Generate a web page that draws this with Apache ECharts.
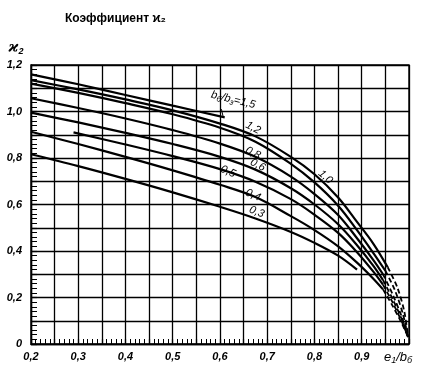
<!DOCTYPE html>
<html><head><meta charset="utf-8">
<script src="https://cdn.jsdelivr.net/npm/echarts@6/dist/echarts.min.js"></script>
<style>html,body{margin:0;padding:0;background:#fff}#c{width:426px;height:379px}</style>
</head><body><div id="c"></div>
<script>
// ---- data ----
const curveNames = ['1,5', '1,2', '1,0', '0,8', '0,6', '0,5', '0,4', '0,3'];
const k15Solid  = [[0.2,1.16],[0.3,1.117],[0.4,1.071],[0.5,1.025],[0.61,0.975]];
const k15Dashed = [];
const k12Solid  = [[0.2,1.135],[0.3,1.095],[0.4,1.052],[0.5,1.005],[0.6,0.948],[0.675,0.893],[0.75,0.805],[0.8,0.73],[0.85,0.63],[0.89,0.525],[0.925,0.43],[0.955,0.33]];
const k12Dashed = [[0.955,0.33],[0.975,0.245],[0.99,0.14],[0.998,0.03]];
const k10Solid  = [[0.2,1.12],[0.3,1.08],[0.4,1.036],[0.5,0.988],[0.6,0.93],[0.675,0.87],[0.75,0.775],[0.8,0.695],[0.85,0.595],[0.89,0.49],[0.925,0.39],[0.95,0.315]];
const k10Dashed = [[0.95,0.315],[0.97,0.232],[0.987,0.13],[0.998,0.03]];
const k08Solid  = [[0.2,1.057],[0.3,1.015],[0.4,0.97],[0.5,0.92],[0.6,0.862],[0.675,0.805],[0.75,0.72],[0.8,0.645],[0.85,0.555],[0.89,0.455],[0.925,0.36],[0.945,0.30]];
const k08Dashed = [[0.945,0.30],[0.965,0.215],[0.985,0.115],[0.998,0.03]];
const k06Solid  = [[0.2,0.995],[0.3,0.953],[0.4,0.908],[0.5,0.86],[0.6,0.805],[0.675,0.75],[0.75,0.67],[0.8,0.60],[0.85,0.515],[0.89,0.425],[0.925,0.335],[0.945,0.275]];
const k06Dashed = [[0.945,0.275],[0.965,0.195],[0.985,0.105],[0.998,0.03]];
const k05Solid  = [[0.29,0.91],[0.4,0.858],[0.5,0.808],[0.6,0.752],[0.675,0.698],[0.75,0.623],[0.8,0.556],[0.85,0.478],[0.89,0.395],[0.925,0.31],[0.945,0.255]];
const k05Dashed = [[0.945,0.255],[0.965,0.18],[0.985,0.095],[0.998,0.03]];
const k04Solid  = [[0.2,0.913],[0.3,0.86],[0.4,0.805],[0.5,0.747],[0.6,0.685],[0.675,0.632],[0.75,0.55],[0.8,0.49],[0.85,0.42],[0.89,0.35],[0.925,0.28],[0.945,0.235]];
const k04Dashed = [[0.945,0.235],[0.965,0.165],[0.985,0.088],[0.998,0.03]];
const k03Solid  = [[0.2,0.816],[0.3,0.765],[0.4,0.71],[0.5,0.652],[0.6,0.59],[0.675,0.54],[0.75,0.482],[0.8,0.435],[0.85,0.38],[0.89,0.32]];
const k03Dashed = [];

const solids  = [k15Solid, k12Solid, k10Solid, k08Solid, k06Solid, k05Solid, k04Solid, k03Solid];
const dashes  = [k15Dashed, k12Dashed, k10Dashed, k08Dashed, k06Dashed, k05Dashed, k04Dashed, k03Dashed];

const xMin = 0.2, xMax = 1.0, xStep = 0.05;
const yMin = 0, yMax = 1.2, yStep = 0.1;
const titleText = 'Коэффициент ϰ₂';

// ---- chart ----
const FONT = 'Liberation Sans';
const chart = echarts.init(document.getElementById('c'), null, {renderer: 'canvas'});
const series = [];
solids.forEach((d, i) => {
  series.push({name: curveNames[i], type: 'line', data: d, smooth: 0.35, symbol: 'none', silent: true,
    lineStyle: {color: '#000', width: 2.2}, z: 5});
  if (dashes[i].length) series.push({name: curveNames[i] + ' ext', type: 'line', data: dashes[i], smooth: 0.3,
    symbol: 'none', silent: true, lineStyle: {color: '#000', width: 1.8, type: [5, 3]}, z: 5});
});

const fmtNum = v => v.toFixed(1).replace('.', ',');
chart.setOption({
  animation: false,
  backgroundColor: '#fff',
  title: {text: titleText, left: 60, top: 8, textStyle: {fontFamily: FONT, fontWeight: 'bold', fontSize: 12, color: '#000'}},
  grid: {left: 31, right: 17, top: 65, bottom: 35, show: true, borderColor: '#000', borderWidth: 1.4},
  xAxis: {type: 'value', min: xMin, max: xMax, interval: xStep,
    axisLine: {lineStyle: {color: '#000', width: 1.4}},
    axisTick: {show: true, inside: true, length: 5, lineStyle: {color: '#000', width: 1.2}},
    minorTick: {show: true, splitNumber: 5, length: 5, lineStyle: {color: '#000', width: 1}},
    splitLine: {show: true, lineStyle: {color: '#000', width: 1.3}},
    axisLabel: {margin: 7, fontFamily: FONT, fontStyle: 'italic', fontWeight: 'bold', fontSize: 11, color: '#000',
      formatter: v => { const r = Math.round(v * 100); if (r % 10 !== 0 || r >= 100) return ''; return fmtNum(v); }}
  },
  yAxis: {type: 'value', min: yMin, max: yMax, interval: yStep,
    axisLine: {lineStyle: {color: '#000', width: 1.4}},
    axisTick: {show: true, inside: true, length: 6, lineStyle: {color: '#000', width: 1.2}},
    minorTick: {show: true, splitNumber: 5, length: 6, lineStyle: {color: '#000', width: 1}},
    splitLine: {show: true, lineStyle: {color: '#000', width: 1.3}},
    axisLabel: {margin: 9, fontFamily: FONT, fontStyle: 'italic', fontWeight: 'bold', fontSize: 11, color: '#000',
      formatter: v => { const r = Math.round(v * 10); if (r % 2 !== 0) return ''; return r === 0 ? '0' : fmtNum(v); }}
  },
  series: series
});

// curve labels placed in data coordinates
const labelSpec = [
  {i: 0, at: [0.628, 1.05], rot: -14, rich: true},
  {i: 1, at: [0.67, 0.93], rot: -28},
  {i: 2, at: [0.823, 0.718], rot: -42},
  {i: 3, at: [0.67, 0.822], rot: -27},
  {i: 4, at: [0.68, 0.77], rot: -27},
  {i: 5, at: [0.617, 0.742], rot: -24},
  {i: 6, at: [0.67, 0.641], rot: -24},
  {i: 7, at: [0.678, 0.568], rot: -22}
];
const graphics = [];
const txtStyle = {fontFamily: FONT, fontStyle: 'italic', fontSize: 11, fill: '#000'};
labelSpec.forEach(s => {
  const p = chart.convertToPixel({gridIndex: 0}, s.at);
  const text = s.rich ? 'b{s|б}/b{s|з}=' + curveNames[s.i] : curveNames[s.i];
  graphics.push({type: 'text', x: p[0], y: p[1], rotation: s.rot * Math.PI / 180, z: 10,
    style: Object.assign({}, txtStyle, {text: text, align: 'center', verticalAlign: 'middle',
      rich: {s: {fontFamily: FONT, fontStyle: 'italic', fontSize: 8, verticalAlign: 'bottom', padding: [6, 0, 0, 0]}}})});
});
// leader from 1.5 label to its curve end
const a = chart.convertToPixel({gridIndex: 0}, [0.607, 0.975]);
const b = chart.convertToPixel({gridIndex: 0}, [0.603, 1.01]);
graphics.push({type: 'line', z: 10, shape: {x1: a[0], y1: a[1], x2: b[0], y2: b[1]}, style: {stroke: '#000', lineWidth: 1}});
// x axis end label and y axis name
const xe = chart.convertToPixel({gridIndex: 0}, [xMax, yMin]);
graphics.push({type: 'text', x: xe[0] - 11, y: xe[1] + 13, z: 10,
  style: {text: 'e{s|1}/b{s|б}', align: 'center', verticalAlign: 'middle', fontFamily: FONT, fontStyle: 'italic', fontSize: 13, fill: '#000',
    rich: {s: {fontFamily: FONT, fontStyle: 'italic', fontSize: 9, padding: [6, 0, 0, 0]}}}});
const yt = chart.convertToPixel({gridIndex: 0}, [xMin, yMax]);
graphics.push({type: 'text', x: yt[0] - 15, y: yt[1] - 17, z: 10,
  style: {text: 'ϰ{s|2}', align: 'center', verticalAlign: 'middle', fontFamily: 'DejaVu Serif', fontStyle: 'italic', fontWeight: 'bold', fontSize: 15, fill: '#000',
    rich: {s: {fontFamily: FONT, fontStyle: 'italic', fontWeight: 'bold', fontSize: 9, padding: [8, 0, 0, 0]}}}});
chart.setOption({graphic: graphics});
</script>
</body></html>
